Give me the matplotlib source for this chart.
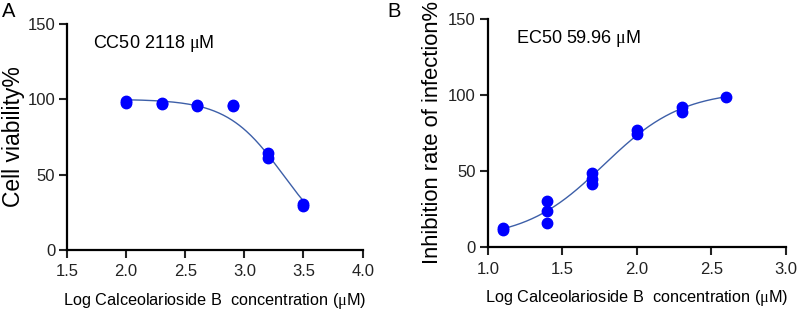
import matplotlib.pyplot as plt
from matplotlib import rcParams
import numpy as np

rcParams['font.family'] = ['Liberation Sans', 'DejaVu Sans']
rcParams['mathtext.fontset'] = 'custom'
rcParams['mathtext.rm'] = 'Liberation Serif'

# panel A: cytotoxicity
a_x = [2.0, 2.0, 2.3, 2.3, 2.6, 2.6, 2.9, 2.9, 3.2, 3.2, 3.5, 3.5]
a_y = [98.5, 97.5, 97.5, 96.5, 96.0, 95.5, 96.0, 95.5, 64.5, 61.0, 30.5, 29.0]
# fitted 4PL parameters: bottom, top, logIC50, hill slope
a_fit = (0.0, 100.0, 3.326, -1.84)

# panel B: antiviral activity
b_x = [1.1, 1.1, 1.4, 1.4, 1.4, 1.7, 1.7, 1.7, 2.0, 2.0, 2.3, 2.3, 2.6]
b_y = [12.6, 10.9, 30.0, 23.6, 15.9, 49.0, 44.6, 41.3, 77.0, 74.6, 92.0, 88.7, 98.9]
b_fit = (5.0, 103.0, 1.778, 1.644)


def four_pl(x, bottom, top, logc, hill):
    return bottom + (top - bottom) / (1 + 10 ** ((logc - x) * hill))


fig = plt.figure(figsize=(7.97, 3.10), dpi=100)
axA = fig.add_axes([0.084, 0.194, 0.371, 0.729])
axB = fig.add_axes([0.612, 0.203, 0.374, 0.736])

mu = '$\\mathrm{\\mu}$'
panels = [
    (axA, a_x, a_y, a_fit, (1.5, 4.0), np.arange(1.5, 4.01, 0.5), 'Cell viability%', 'CC50 2118 ' + mu + 'M', 1.72, 1.5, 16.5),
    (axB, b_x, b_y, b_fit, (1.0, 3.0), np.arange(1.0, 3.01, 0.5), 'Inhibition rate of infection%', 'EC50 59.96 ' + mu + 'M', 1.19, 4, 15.8),
]

for ax, xs, ys, fit, xlim, xt, ylab, note, nx, lp, fs in panels:
    xx = np.linspace(min(xs), max(xs), 200)
    ax.plot(xx, four_pl(xx, *fit), color='#3d5fa8', lw=1.0, zorder=2)
    ax.plot(xs, ys, 'o', color='#0000ff', ms=7.5, mec='#0000ff', zorder=3, clip_on=False)
    ax.set_xlim(*xlim)
    ax.set_ylim(0, 150)
    ax.set_xticks(xt)
    ax.set_xticklabels(['%.1f' % v for v in xt])
    ax.set_yticks([0, 50, 100, 150])
    for s in ['top', 'right']:
        ax.spines[s].set_visible(False)
    for s in ['left', 'bottom']:
        ax.spines[s].set_linewidth(1.6)
    ax.tick_params(width=1.5, length=5.5, labelsize=12, colors='#222222', labelcolor='#222222')
    ax.tick_params(axis='x', pad=5)
    ax.tick_params(axis='y', pad=3)
    ax.set_ylabel(ylab, fontsize=fs, labelpad=lp)
    ax.set_xlabel('Log Calceolarioside B  concentration (' + mu + 'M)', fontsize=11.7, labelpad=8)
    ax.text(nx, 137, note, fontsize=13, va='center', ha='left')

fig.text(0.003, 0.963, 'A', fontsize=14.5, va='center')
fig.text(0.486, 0.963, 'B', fontsize=14.5, va='center')

fig.savefig('out.png', dpi=100)
